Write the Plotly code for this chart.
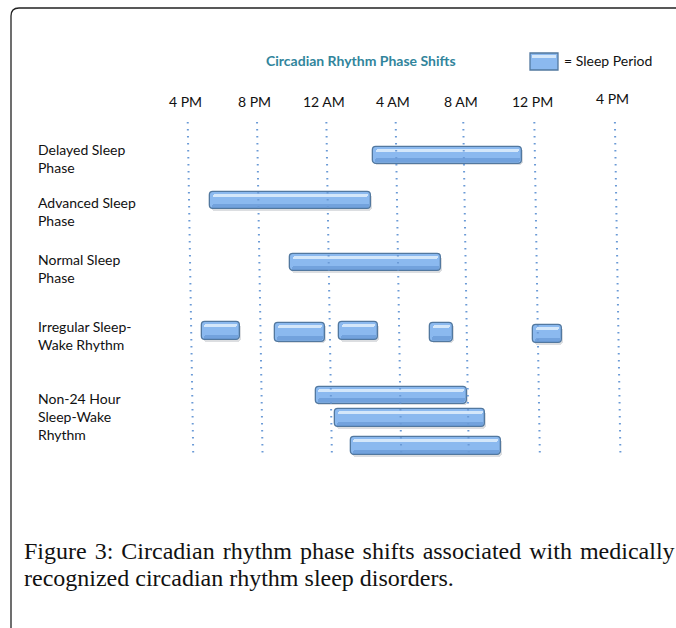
import plotly.graph_objects as go

# ---------------- data ----------------
row_labels = ["Delayed Sleep<br>Phase", "Advanced Sleep<br>Phase", "Normal Sleep<br>Phase",
              "Irregular Sleep-<br>Wake Rhythm", "Non-24 Hour<br>Sleep-Wake<br>Rhythm"]
row_label_y = [158, 211, 268, 335, 416]

# sleep periods, in hours since midnight of day 0 (16 = 4 PM, 24 = 12 AM, 36 = 12 PM)
bar_start = [26.53, 17.13, 21.74, 16.65, 20.88, 24.57, 29.82, 35.77, 23.22, 24.34, 25.24]
bar_end   = [35.13, 26.42, 30.45, 18.86, 23.76, 26.82, 31.15, 37.44, 31.96, 33.00, 33.92]
bar_lane  = [155, 200.5, 262.5, 331, 332, 331, 332, 334, 395, 418, 446]
bar_thick = [17, 17, 17, 18, 19, 18, 19, 18, 17, 18, 18]

tick_labels = ["4 PM", "8 PM", "12 AM", "4 AM", "8 AM", "12 PM", "4 PM"]
tick_hours = [16, 20, 24, 28, 31.9, 36, 40.65]
tick_label_y = [101, 101, 101, 101, 101, 101, 98]

caption_lines = ["Figure 3: Circadian rhythm phase shifts associated with medically",
                 "recognized circadian rhythm sleep disorders."]

W, H = 676, 628
px_per_hour = 17.33
x0_hour = 16 - 190.5 / px_per_hour
x1_hour = 16 + (W - 190.5) / px_per_hour

fig = go.Figure()

# dotted gridlines (slightly slanted as in the source image)
for h in tick_hours:
    fig.add_trace(go.Scatter(
        x=[h - 0.16, h + 0.16], y=[122, 457], mode="lines",
        line=dict(color="#6a9ad6", width=2, dash="1.5px,5.5px"),
        hoverinfo="skip", showlegend=False))

durations = [e - s for s, e in zip(bar_start, bar_end)]

# shadow
fig.add_trace(go.Bar(
    orientation="h", base=[s + 0.05 for s in bar_start], x=durations,
    y=[l + 1.5 for l in bar_lane], width=bar_thick,
    marker=dict(color="rgba(60,70,90,0.18)", line=dict(width=0)),
    hoverinfo="skip", showlegend=False))
# main bar
fig.add_trace(go.Bar(
    orientation="h", base=bar_start, x=durations, y=bar_lane, width=bar_thick,
    marker=dict(color="#8bb9ef", line=dict(color="#52789f", width=1.3)),
    hoverinfo="skip", showlegend=False))
# bottom darker band
fig.add_trace(go.Bar(
    orientation="h", base=[s + 0.12 for s in bar_start], x=[d - 0.24 for d in durations],
    y=[l + t / 2 - 3.2 for l, t in zip(bar_lane, bar_thick)], width=4,
    marker=dict(color="rgba(70,120,190,0.35)", line=dict(width=0)),
    hoverinfo="skip", showlegend=False))
# top gloss
fig.add_trace(go.Bar(
    orientation="h", base=[s + 0.15 for s in bar_start], x=[d - 0.3 for d in durations],
    y=[l - t / 2 + 3.5 for l, t in zip(bar_lane, bar_thick)], width=3,
    marker=dict(color="rgba(225,238,252,0.85)", line=dict(width=0)),
    hoverinfo="skip", showlegend=False))

sans = "Lato, Carlito, sans-serif"
annotations = []
for lab, y in zip(row_labels, row_label_y):
    annotations.append(dict(x=36 / W, xref="paper", y=y, yref="y", text=lab,
                            showarrow=False, xanchor="left", yanchor="middle", align="left",
                            font=dict(family=sans, size=14, color="#111111")))
for lab, h, y in zip(tick_labels, tick_hours, tick_label_y):
    annotations.append(dict(x=h, xref="x", y=y, yref="y", text=lab, showarrow=False,
                            xanchor="center", yanchor="middle", xshift=-5,
                            font=dict(family=sans, size=14, color="#111111")))
annotations.append(dict(x=361 / W, xref="paper", y=60, yref="y",
                        text="<b>Circadian Rhythm Phase Shifts</b>", showarrow=False,
                        xanchor="center", yanchor="middle",
                        font=dict(family=sans, size=14, color="#31859c")))
annotations.append(dict(x=562 / W, xref="paper", y=60, yref="y", text="= Sleep Period",
                        showarrow=False, xanchor="left", yanchor="middle",
                        font=dict(family=sans, size=14, color="#111111")))
cap_font = dict(family="Liberation Serif, DejaVu Serif, serif", size=24, color="#111111")
# first caption line is justified in the source: widen the word gaps a little
line1 = caption_lines[0].replace(" ", " \u200a")
annotations.append(dict(x=22 / W, xref="paper", y=551, yref="y", text=line1,
                        showarrow=False, xanchor="left", yanchor="middle", font=cap_font))
annotations.append(dict(x=22 / W, xref="paper", y=578, yref="y", text=caption_lines[1],
                        showarrow=False, xanchor="left", yanchor="middle", font=cap_font))

def fx(px):
    return px / W

def fy(py):
    return 1 - py / H

r = 8
frame_path = (f"M {fx(11)},{fy(H + 5)} L {fx(11)},{fy(8 + r)} "
              f"Q {fx(11)},{fy(8)} {fx(11 + r)},{fy(8)} L {fx(W + 5)},{fy(8)}")
shapes = [
    dict(type="path", xref="paper", yref="paper", path=frame_path,
         line=dict(color="#222222", width=1.3)),
    # legend swatch
    dict(type="rect", xref="paper", yref="paper", x0=fx(530), x1=fx(558), y0=fy(53), y1=fy(70),
         fillcolor="#8bb9ef", line=dict(color="#52789f", width=1.3)),
    dict(type="rect", xref="paper", yref="paper", x0=fx(532), x1=fx(556), y0=fy(55), y1=fy(58),
         fillcolor="rgba(225,238,252,0.85)", line=dict(width=0)),
]

fig.update_layout(
    width=W, height=H, margin=dict(l=0, r=0, t=0, b=0),
    paper_bgcolor="white", plot_bgcolor="white",
    barmode="overlay", barcornerradius=4, bargap=0,
    xaxis=dict(range=[x0_hour, x1_hour], visible=False, fixedrange=True),
    yaxis=dict(range=[H, 0], visible=False, fixedrange=True),
    annotations=annotations, shapes=shapes, showlegend=False,
)

fig.write_html("out.html", config={"displayModeBar": False},
               post_script="document.body.style.margin='0';document.body.style.overflow='hidden';")
